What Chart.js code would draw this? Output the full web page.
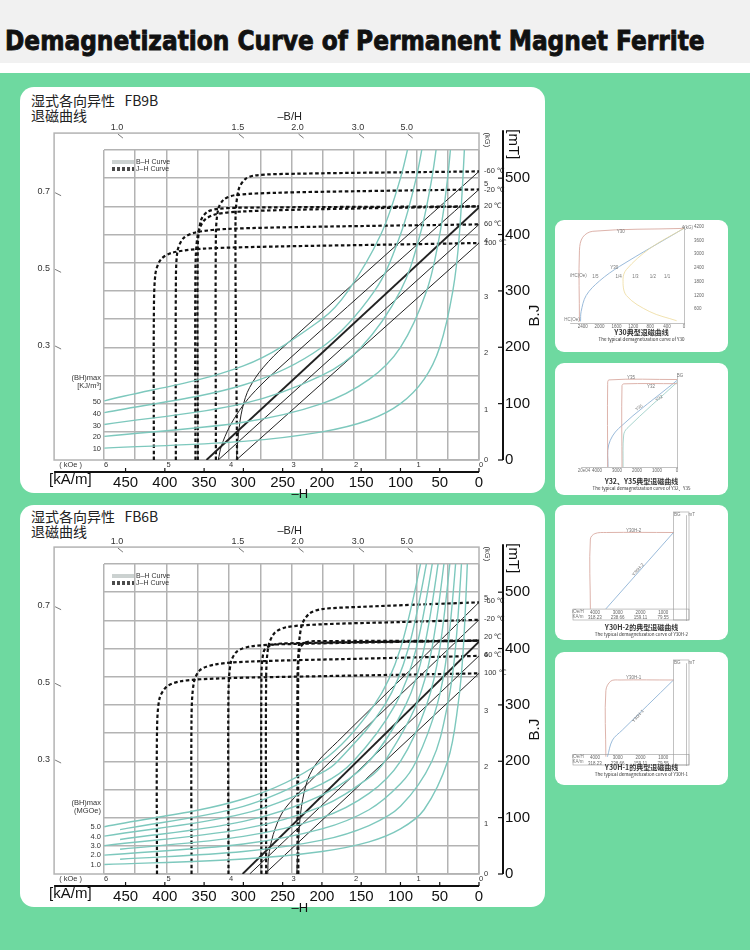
<!DOCTYPE html>
<html><head><meta charset="utf-8">
<script src="https://cdn.jsdelivr.net/npm/chart.js@4.4.0/dist/chart.umd.min.js"></script>
<style>
body{margin:0;width:750px;height:950px;position:relative;background:#fff;overflow:hidden;font-family:"Liberation Sans",Arial,sans-serif}
#band{position:absolute;left:0;top:0;width:750px;height:63px;background:#f1f1f1}
#title{position:absolute;left:5px;top:25px;font:bold 27px "DejaVu Sans";-webkit-text-stroke:0.9px #111;color:#111;white-space:nowrap;transform-origin:0 0}
#green{position:absolute;left:0;top:73px;width:750px;height:877px;background:#6ed9a0}
.panel{position:absolute;background:#fff;border-radius:14px}
.head{position:absolute;left:11px;font:14px "Noto Sans CJK SC";color:#222;line-height:15px}
canvas{position:absolute}
.cap{position:absolute;width:173px;text-align:center;color:#333;font-family:"Noto Sans CJK SC";white-space:nowrap}
.cap b{display:block;font-size:7px;font-weight:bold;line-height:8px}
.cap i{display:block;font-size:4.5px;font-style:normal;line-height:6px}
</style></head><body>
<div id="band"></div><div id="title">Demagnetization Curve of Permanent Magnet Ferrite</div>
<div id="green"></div>
<div class="panel" style="left:20px;top:87px;width:525px;height:406px"><div class="head" style="top:6px">湿式各向异性&nbsp;&nbsp;&nbsp;FB9B<br>退磁曲线</div><canvas id="c1" width="525" height="414" style="left:0;top:0"></canvas></div>
<div class="panel" style="left:20px;top:505px;width:525px;height:402px"><div class="head" style="top:4px">湿式各向异性&nbsp;&nbsp;&nbsp;FB6B<br>退磁曲线</div><canvas id="c2" width="525" height="414" style="left:0;top:-4px"></canvas></div>
<div class="panel" style="left:555px;top:220px;width:173px;height:132px;border-radius:9px"><canvas id="t1" width="165" height="115" style="left:5px;top:2px"></canvas><div class="cap" style="top:108px"><b>Y30典型退磁曲线</b><i>The typical demagnetization curve of Y30</i></div></div>
<div class="panel" style="left:555px;top:363px;width:173px;height:132px;border-radius:9px"><canvas id="t2" width="147" height="109" style="left:15px;top:9px"></canvas><div class="cap" style="top:114px"><b>Y32、Y35典型退磁曲线</b><i>The typical demagnetization curve of Y32、Y35</i></div></div>
<div class="panel" style="left:555px;top:505px;width:173px;height:135px;border-radius:9px"><canvas id="t3" width="164" height="124" style="left:15px;top:5px"></canvas><div class="cap" style="top:118px"><b>Y30H-2的典型退磁曲线</b><i>The typical demagnetization curve of Y30H-2</i></div></div>
<div class="panel" style="left:555px;top:652px;width:173px;height:133px;border-radius:9px"><canvas id="t4" width="164" height="121" style="left:15px;top:6px"></canvas><div class="cap" style="top:111px"><b>Y30H-1的典型退磁曲线</b><i>The typical demagnetization curve of Y30H-1</i></div></div>
<script>
// ---------- FB9B data (H kA/m, B/J mT) ----------
const fb9bJ100=[[414,0],[414,250],[412,330],[405,356],[390,368],[350,375],[250,379],[120,382],[0,385]];
const fb9bJ60=[[386,0],[386,300],[384,370],[376,394],[360,404],[320,410],[200,414],[0,418]];
const fb9bJ20a=[[361,0],[361,340],[358,400],[350,425],[335,436],[300,441],[200,445],[0,450]];
const fb9bJ20b=[[358,0],[358,380],[354,425],[346,440],[330,446],[280,448],[0,450]];
const fb9bJm20=[[335,0],[335,400],[332,445],[325,462],[310,470],[260,474],[150,477],[0,480]];
const fb9bJm60=[[308,0],[310,430],[306,480],[298,498],[285,505],[230,508],[0,512]];
const fb9bB100=[[0,385],[309,0]];
const fb9bB60=[[0,418],[332,0]];
const fb9bB20=[[0,448],[347,0]];
const fb9bBm20=[[0,480],[265,150],[290,115],[305,88],[318,58],[328,25],[332,0]];
const fb9bBm60=[[0,512],[255,193],[280,155],[295,120],[303,80],[307,35],[309,0]];
const fb9bBH10=[[477,21],[300,33],[200,50],[140,71],[100,100],[70,143],[50,200],[33.3,300],[25,400],[16.7,600]];
const fb9bBH20=[[477,42],[300,67],[200,100],[140,143],[100,200],[66.7,300],[50,400],[40,500],[33.3,600]];
const fb9bBH30=[[477,63],[300,100],[200,150],[150,200],[100,300],[75,400],[60,500],[50,600]];
const fb9bBH40=[[477,84],[300,133],[200,200],[133,300],[100,400],[80,500],[66.7,600]];
const fb9bBH50=[[477,105],[300,167],[200,250],[166.7,300],[125,400],[100,500],[83.3,600]];
const fb9bTemps=[['-60 ℃',512],['-20 ℃',480],['20 ℃',450],['60 ℃',418],['100 ℃',385]];
const fb9bBHLabels=[['50',103],['40',82],['30',61],['20',41],['10',20]];
const fb9bBHHead=['(BH)max','[KJ/m³]'];
// ---------- FB6B data ----------
const fb6bJ100=[[410,0],[410,250],[407,310],[398,332],[380,342],[330,347],[200,351],[0,356]];
const fb6bJ60=[[366,0],[366,280],[363,340],[355,362],[335,372],[290,377],[150,382],[0,387]];
const fb6bJ20a=[[319,0],[319,320],[316,375],[308,395],[290,404],[240,408],[0,414]];
const fb6bJ20b=[[277,0],[277,350],[274,395],[266,405],[250,409],[0,414]];
const fb6bJ20c=[[231,0],[231,360],[228,400],[222,410],[210,413],[0,414]];
const fb6bJm20=[[271,0],[271,350],[268,405],[260,428],[245,438],[200,443],[100,447],[0,451]];
const fb6bJm60=[[230,0],[230,380],[226,440],[216,462],[200,470],[150,474],[0,482]];
const fb6bB100=[[0,356],[273,0]];
const fb6bB60=[[0,387],[292,0]];
const fb6bB20=[[0,412],[301,0]];
const fb6bBm20=[[0,451],[200,185],[230,143],[250,110],[262,70],[268,30],[269,0]];
const fb6bBm60=[[0,482],[180,235],[205,200],[218,168],[226,120],[230,60],[232,0]];
const fb6bBH=[
 [[477,16.8],[300,26.7],[200,40],[140,57],[100,80],[70,114],[40,200],[26.7,300],[20,400],[13.3,600]],
 [[457,26.3],[300,40],[200,60],[140,86],[100,120],[60,200],[40,300],[30,400],[20,600]],
 [[477,33.5],[300,53.3],[200,80],[140,114],[100,160],[80,200],[53.3,300],[40,400],[26.7,600]],
 [[457,43.8],[300,66.7],[200,100],[140,143],[100,200],[66.7,300],[50,400],[33.3,600]],
 [[477,50.3],[300,80],[200,120],[140,171],[120,200],[80,300],[60,400],[40,600]],
 [[457,61.3],[300,93.3],[200,140],[140,200],[93.3,300],[70,400],[46.7,600]],
 [[477,67.1],[300,107],[200,160],[160,200],[106.7,300],[80,400],[53.3,600]],
 [[457,78.8],[300,120],[200,180],[180,200],[120,300],[90,400],[60,600]],
 [[477,83.9],[300,133],[200,200],[133.3,300],[100,400],[66.7,600]]];
const fb6bTemps=[['-60 ℃',485],['-20 ℃',452],['20 ℃',420],['60 ℃',388],['100 ℃',356]];
const fb6bBHLabels=[['5.0',84],['4.0',66],['3.0',50],['2.0',33],['1.0',16]];
const fb6bBHHead=['(BH)max','(MGOe)'];
// ---------- shared tick labels ----------
const kAmTicks=[0,50,100,150,200,250,300,350,400,450];
const mTTicks=[0,100,200,300,400,500];
const kOeLabels=['0','1','2','3','4','5','6'];
const kGLabels=['0','1','2','3','4','5'];
const loadTop=[['1.0',461],['1.5',307],['2.0',231],['3.0',154],['5.0',92]];
const loadLeft=[['0.7',476],['0.5',340],['0.3',204]];
// ---------- thumbnails (H Oe, B Gs) ----------
const y30J=[[2476,70],[2476,3178],[2397,3743],[2159,4000],[56,4124],[0,4130]];
const y30B=[[0,4130],[1524,2472],[2000,1836],[2317,1200],[2437,494],[2450,70]];
const y30Y=[[0,4130],[810,3250],[1365,2330],[1444,1907],[1365,1200],[810,494],[175,100]];
const y30Ticks=[0,400,800,1200,1600,2000,2400];
const y35J=[[3467,0],[3467,4400],[3400,4630],[0,4650]];
const y32J=[[2750,0],[2750,4330],[2650,4420],[0,4430]];
const y35B=[[0,4600],[2917,2050],[3417,1175],[3450,0]];
const y32B=[[0,4500],[2500,2050],[2667,1700],[2700,0]];
const y3235Ticks=[0,1000,2000,3000,4000];
const y30h2J=[[4200,510],[4200,3700],[4000,3950],[3500,4000],[550,4000]];
const y30h2B=[[3520,508],[550,4000]];
const y30h1J=[[3520,390],[3520,3500],[3300,3950],[2900,4000],[550,4000]];
const y30h1B=[[3450,390],[3230,1170],[2800,1640],[550,4000]];
const oeTicks=[1000,2000,3000,4000];
const kamTicks=['79.55','159.11','238.66','318.23'];

const pts=a=>a.map(p=>({x:p[0],y:p[1]}));
const TEAL='#7dc8bd';
function ds(a,color,w,dash,t){return {data:pts(a),showLine:true,borderColor:color,borderWidth:w,borderDash:dash||[],pointRadius:0,tension:t===undefined?0.35:t,fill:false};}

function mainChart(id,J,B,BH,temps,bhl,bhh){
 const datasets=[];
 BH.forEach(a=>datasets.push(ds(a,TEAL,1.4)));
 B.forEach((a,i)=>datasets.push(ds(a,'#222',a===B[2]?1.9:1,[],a.length>2?0.3:0)));
 J.forEach(a=>datasets.push(ds(a,'#111',2.2,[3.5,2.5],0.3)));
 const FONT='"Liberation Sans",Arial,sans-serif';
 const deco={id:'deco',
  beforeDatasetsDraw(c){
   const ctx=c.ctx,X=v=>c.scales.x.getPixelForValue(v),Y=v=>c.scales.y.getPixelForValue(v);
   ctx.save();ctx.strokeStyle='#b3b3b3';ctx.lineWidth=1.5;
   ctx.strokeRect(X(541),Y(580),X(0)-X(541),Y(0)-Y(580));
   ctx.strokeStyle='#7d8d8b';ctx.lineWidth=0.8;
   [74,76].forEach(y=>{ctx.beginPath();ctx.moveTo(92,y);ctx.lineTo(114,y);ctx.stroke();});
   ctx.strokeStyle='#111';ctx.lineWidth=1.3;ctx.setLineDash([3,2]);
   [81,83].forEach(y=>{ctx.beginPath();ctx.moveTo(92,y);ctx.lineTo(114,y);ctx.stroke();});
   ctx.setLineDash([]);ctx.fillStyle='#333';ctx.font='7px '+FONT;ctx.textBaseline='middle';ctx.textAlign='left';
   ctx.fillText('B–H Curve',116,75);ctx.fillText('J–H Curve',116,82);
   ctx.restore();
  },
  afterDraw(c){
   const ctx=c.ctx,X=v=>c.scales.x.getPixelForValue(v),Y=v=>c.scales.y.getPixelForValue(v);
   ctx.save();ctx.fillStyle='#333';ctx.strokeStyle='#555';ctx.lineWidth=0.8;ctx.textBaseline='middle';
   ctx.font='9px '+FONT;ctx.textAlign='center';
   loadTop.forEach(([t,h])=>{ctx.fillText(t,X(h),Y(580)-6);ctx.beginPath();ctx.moveTo(X(h)+1,Y(580)+1);ctx.lineTo(X(h)+6,Y(580)+5);ctx.stroke();});
   ctx.fillStyle='#222';ctx.font='11px '+FONT;ctx.fillText('–B/H',X(241),Y(580)-16);
   ctx.font='9px '+FONT;ctx.fillStyle='#333';ctx.textAlign='right';
   loadLeft.forEach(([t,b])=>{ctx.fillText(t,X(541)-4,Y(b));ctx.beginPath();ctx.moveTo(X(541)+1,Y(b)+1);ctx.lineTo(X(541)+7,Y(b)+4);ctx.stroke();});
   ctx.font='7.5px '+FONT;ctx.textAlign='center';
   kOeLabels.forEach((t,i)=>ctx.fillText(t,X(i*79.577)+2,Y(0)+5));
   ctx.fillText('( kOe )',X(520),Y(0)+5);
   ctx.textAlign='left';
   kGLabels.forEach((t,i)=>ctx.fillText(t,X(0)+5,Y(i*100)+(i?6:0)));
   ctx.save();ctx.translate(X(0)+8,Y(568));ctx.rotate(Math.PI/2);ctx.textAlign='center';ctx.fillText('(kG)',0,0);ctx.restore();
   ctx.font='7.5px '+FONT;
   temps.forEach(([t,b])=>ctx.fillText(t,X(0)+5,Y(b)));
   ctx.textAlign='right';
   bhl.forEach(([t,b])=>ctx.fillText(t,X(477.46)-3,Y(b)));
   ctx.fillText(bhh[0],X(477.46)-3,Y(bhl[0][1])-24);ctx.fillText(bhh[1],X(477.46)-3,Y(bhl[0][1])-16);
   const yb=Y(0)+12;ctx.strokeStyle='#111';ctx.lineWidth=2;
   ctx.beginPath();ctx.moveTo(X(541),yb);ctx.lineTo(X(0),yb);ctx.stroke();
   ctx.lineWidth=1.2;kAmTicks.forEach(v=>{ctx.beginPath();ctx.moveTo(X(v),yb-4);ctx.lineTo(X(v),yb);ctx.stroke();});
   ctx.fillStyle='#111';ctx.font='15px '+FONT;ctx.textAlign='left';ctx.fillText('[kA/m]',X(541)-5,yb+8);
   ctx.font='13px '+FONT;ctx.textAlign='center';ctx.fillText('–H',X(228),yb+22);
   const xr=X(0)+24;ctx.lineWidth=2;ctx.beginPath();ctx.moveTo(xr,Y(0));ctx.lineTo(xr,Y(585));ctx.stroke();
   ctx.lineWidth=1.2;mTTicks.forEach(v=>{ctx.beginPath();ctx.moveTo(xr-5,Y(v));ctx.lineTo(xr,Y(v));ctx.stroke();});
   ctx.save();ctx.translate(xr+10,Y(560));ctx.rotate(Math.PI/2);ctx.font='15px '+FONT;ctx.fillText('[mT]',0,0);ctx.restore();
   ctx.save();ctx.translate(xr+32,Y(256));ctx.rotate(-Math.PI/2);ctx.font='15px '+FONT;ctx.fillText('B.J',0,0);ctx.restore();
   ctx.restore();
  }};
 new Chart(document.getElementById(id),{type:'scatter',data:{datasets},
  options:{responsive:false,animation:false,events:[],layout:{padding:{top:63,left:84,bottom:8}},
   plugins:{legend:{display:false},tooltip:{enabled:false}},
   scales:{
    x:{type:'linear',reverse:true,min:0,max:477.46,position:'bottom',grid:{display:false},border:{display:false},
       afterFit:s=>{s.height=33;},afterBuildTicks:s=>{s.ticks=kAmTicks.map(v=>({value:v}));},
       ticks:{padding:6,color:'#111',font:{size:15,family:'"Liberation Sans"'}}},
    xg:{type:'linear',reverse:true,min:0,max:477.46,position:'top',ticks:{display:false,stepSize:39.7887},
       grid:{color:'#b3b3b3',lineWidth:1.5,drawTicks:false},border:{display:false},afterFit:s=>{s.height=0;}},
    y:{type:'linear',min:0,max:550,position:'right',grid:{color:'#b3b3b3',lineWidth:1.5,drawTicks:false},border:{display:false},
       afterFit:s=>{s.width=66;},
       ticks:{stepSize:50,padding:26,color:'#111',font:{size:15,family:'"Liberation Sans"'},callback:v=>mTTicks.includes(v)?v:''}}
   }},plugins:[deco]});
}
mainChart('c1',[fb9bJ100,fb9bJ60,fb9bJ20a,fb9bJ20b,fb9bJm20,fb9bJm60],[fb9bB100,fb9bB60,fb9bB20,fb9bBm20,fb9bBm60],
 [fb9bBH10,fb9bBH20,fb9bBH30,fb9bBH40,fb9bBH50],fb9bTemps,fb9bBHLabels,fb9bBHHead);
mainChart('c2',[fb6bJ100,fb6bJ60,fb6bJ20a,fb6bJ20b,fb6bJ20c,fb6bJm20,fb6bJm60],[fb6bB100,fb6bB60,fb6bB20,fb6bBm20,fb6bBm60],
 fb6bBH,fb6bTemps,fb6bBHLabels,fb6bBHHead);

const PINK='#d9aaa2',BLUE='#8fb3d6',YEL='#eedb9c';
function thumb(id,sets,xmax,ymax,pad,yw,xTicks,xcb,yStep,ycb,extra){
 const boxed=pad.box;
 new Chart(document.getElementById(id),{type:'scatter',data:{datasets:sets},
  options:{responsive:false,animation:false,events:[],layout:{padding:{top:pad.t,left:pad.l,bottom:boxed?14:0}},
   plugins:{legend:{display:false},tooltip:{enabled:false}},
   scales:{
    x:{type:'linear',reverse:true,min:0,max:xmax,position:boxed?{y:500}:'bottom',grid:{display:false,drawTicks:false,tickLength:0},
       border:{display:!boxed,color:'#999',width:0.6},
       afterFit:s=>{s.height=boxed?0:14;},afterBuildTicks:s=>{s.ticks=xTicks.map(v=>({value:v}));},
       ticks:{padding:1,font:{size:4.5},color:'#666',autoSkip:false,maxRotation:0,callback:xcb}},
    y:{type:'linear',min:0,max:ymax,position:'right',grid:{display:false},border:{color:'#999',width:0.6},
       afterFit:s=>{s.width=yw;},ticks:{stepSize:yStep,padding:2,font:{size:4.5},color:'#666',callback:ycb}}
   }},plugins:extra?[extra]:[]});
}
function tl(ctx,t,x,y,rot){ctx.save();ctx.translate(x,y);if(rot)ctx.rotate(rot);ctx.fillStyle='#777';ctx.font='4.5px Arial';ctx.textAlign='center';ctx.textBaseline='middle';ctx.fillText(t,0,0);ctx.restore();}
thumb('t1',[ds(y30Y,YEL,0.8),ds(y30J,PINK,0.9),ds(y30B,BLUE,0.9)],2700,4200,{t:2,l:10},41,y30Ticks,v=>String(v),600,
 v=>(v>0&&v%600===0)?v:'',
 {id:'l1',afterDraw(c){const X=v=>c.scales.x.getPixelForValue(v),Y=v=>c.scales.y.getPixelForValue(v),ctx=c.ctx;
  tl(ctx,'Y30',X(1500),Y(4000));tl(ctx,'Y30',X(1650),Y(2400));tl(ctx,'iHC(Oe)',X(2500),Y(2050));
  [['1/5',2100],['1/4',1550],['1/3',1150],['1/2',740],['1/1',400]].forEach(([t,h])=>tl(ctx,t,X(h),Y(2000)));
  tl(ctx,'HC(Oe)',X(2650),Y(150));tl(ctx,'4(kG)',X(-80),Y(4150));}});
thumb('t2',[ds(y35J,PINK,0.9),ds(y32J,PINK,0.9),ds(y35B,BLUE,0.9),ds(y32B,'#9fd0c8',0.9)],4800,4800,{t:4,l:11},40,y3235Ticks,v=>String(v),1000,
 v=>(v>0&&v%1000===0)?v:'',
 {id:'l2',afterDraw(c){const X=v=>c.scales.x.getPixelForValue(v),Y=v=>c.scales.y.getPixelForValue(v),ctx=c.ctx;
  tl(ctx,'Y35',X(2300),Y(4750));tl(ctx,'Y32',X(1300),Y(4250));tl(ctx,'Y35',X(1900),Y(3150),-0.6);tl(ctx,'Y32',X(900),Y(3650),-0.6);
  tl(ctx,'BG',X(-150),Y(4850));tl(ctx,'20e04',X(4650),c.chartArea.bottom+4);}});
const boxPlug=(lbl)=>({id:'b'+lbl,afterDraw(c){const X=v=>c.scales.x.getPixelForValue(v),Y=v=>c.scales.y.getPixelForValue(v),ctx=c.ctx,a=c.chartArea;
  ctx.save();ctx.strokeStyle='#999';ctx.lineWidth=0.6;ctx.strokeRect(X(550),a.top-3,X(0)-X(550)+3,a.bottom-a.top+3);
  ctx.strokeRect(a.left-6,Y(500),X(0)-a.left+9,Y(0)-Y(500));ctx.restore();
  tl(ctx,lbl,X(2300),Y(4100));tl(ctx,lbl,X(2100),Y(2300),-0.85);tl(ctx,'BG',X(380),a.top);tl(ctx,'mT',X(-250),a.top);
  tl(ctx,'iOe/H',a.left-1,Y(370));tl(ctx,'KA/m',a.left-1,Y(170));}});
const xb=v=>{const i=oeTicks.indexOf(v);return i>=0?[String(v),kamTicks[i]]:'';};
const yb=v=>(v>0&&v%1000===0&&v<=4000)?(v+'   '+v/10):'';
thumb('t3',[ds(y30h2J,PINK,0.9),ds(y30h2B,BLUE,0.9,[],0)],4700,4800,{t:5,l:9,box:1},48,oeTicks,xb,1000,yb,boxPlug('Y30H-2'));
thumb('t4',[ds(y30h1J,PINK,0.9),ds(y30h1B,BLUE,0.9)],4700,4800,{t:5,l:9,box:1},48,oeTicks,xb,1000,yb,boxPlug('Y30H-1'));

const tt=document.getElementById('title');tt.style.transform='scaleX('+(700/tt.offsetWidth)+')';
</script></body></html>
